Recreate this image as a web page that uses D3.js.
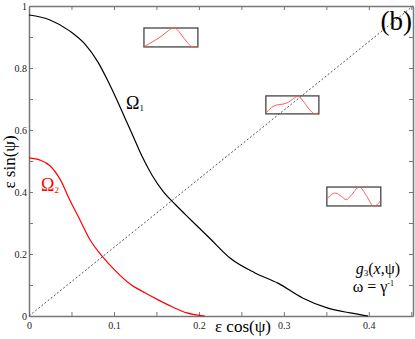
<!DOCTYPE html>
<html>
<head>
<meta charset="utf-8">
<script src="https://cdn.jsdelivr.net/npm/d3@7"></script>
<style>
body { margin: 0; background: #fff; }
svg { display: block; }
text { font-family: "Liberation Serif", "DejaVu Serif", serif; }
.axis path, .axis line { stroke: #777; }
.axis path { stroke-width: 1.5; }
</style>
</head>
<body>
<script>
// кривая Omega_1 (чёрная)
var omega1X = [0, 0.0247, 0.0482, 0.0659, 0.0812, 0.0929, 0.1035, 0.1129, 0.1224, 0.1329, 0.1447, 0.1576, 0.1729, 0.1894, 0.213, 0.237, 0.266, 0.293, 0.322, 0.351, 0.378, 0.399];
var omega1Y = [0.971, 0.955, 0.919, 0.877, 0.819, 0.758, 0.697, 0.639, 0.581, 0.516, 0.455, 0.403, 0.358, 0.313, 0.25, 0.186, 0.139, 0.106, 0.058, 0.026, 0.01, 0];
// кривая Omega_2 (красная)
var omega2X = [0, 0.013, 0.025, 0.037, 0.048, 0.06, 0.072, 0.087, 0.101, 0.119, 0.137, 0.152, 0.169, 0.186, 0.207];
var omega2Y = [0.51, 0.503, 0.484, 0.439, 0.374, 0.31, 0.245, 0.19, 0.148, 0.103, 0.074, 0.052, 0.029, 0.01, 0];
// диагональ
var diagX = [0, 0.452];
var diagY = [0, 1];
// подписи осей
var xTicks = [0, 0.05, 0.1, 0.15, 0.2, 0.25, 0.3, 0.35, 0.4, 0.45];
var xTickLabels = ["0", "", "0.1", "", "0.2", "", "0.3", "", "0.4", ""];
var yTicks = [0, 0.1, 0.2, 0.3, 0.4, 0.5, 0.6, 0.7, 0.8, 0.9, 1];
var yTickLabels = ["0", "", "0.2", "", "0.4", "", "0.6", "", "0.8", "", "1"];
// волновые формы во вставках (u по ширине, v по высоте, 0..1)
var wave1U = [0, 0.15, 0.3, 0.45, 0.53, 0.6, 0.7, 0.8, 0.88, 0.92, 1];
var wave1V = [0.02, 0.25, 0.52, 0.85, 1, 0.95, 0.62, 0.25, 0.03, 0, 0];
var wave2U = [0, 0.11, 0.2, 0.33, 0.42, 0.52, 0.61, 0.7, 0.83, 0.92, 1];
var wave2V = [0.04, 0.36, 0.49, 0.55, 0.64, 0.85, 0.98, 0.73, 0.22, 0, 0.09];
var wave3U = [0, 0.08, 0.16, 0.27, 0.36, 0.45, 0.6, 0.73, 0.86, 0.94, 1];
var wave3V = [0.35, 0.6, 0.68, 0.51, 0.33, 0.56, 1, 0.56, 0, 0.09, 0.3];

var W = 415, H = 339;
var m = { left: 29, right: 2, top: 6, bottom: 23 };
var serif = "'Liberation Serif', 'DejaVu Serif', serif";

var svg = d3.select("body").append("svg").attr("width", W).attr("height", H)
	.attr("font-family", serif);
var x = d3.scaleLinear().domain([0, 0.452]).range([m.left, W - m.right]);
var y = d3.scaleLinear().domain([0, 1]).range([H - m.bottom, m.top]);

function zip(a, b) { return a.map(function(v, i) { return [v, b[i]]; }); }

// оси со всех четырёх сторон, засечки внутрь
var axes = [];
axes.push(svg.append("g").attr("class", "axis").attr("transform", "translate(0," + y(0) + ")")
	.call(d3.axisBottom(x).tickValues(xTicks).tickSizeInner(-4).tickSizeOuter(0).tickPadding(6)
		.tickFormat(function(d, i) { return xTickLabels[i]; })));
axes.push(svg.append("g").attr("class", "axis").attr("transform", "translate(0," + y(1) + ")")
	.call(d3.axisTop(x).tickValues(xTicks).tickSizeInner(-4).tickSizeOuter(0).tickFormat("")));
axes.push(svg.append("g").attr("class", "axis").attr("transform", "translate(" + x(0) + ",0)")
	.call(d3.axisLeft(y).tickValues(yTicks).tickSizeInner(-4).tickSizeOuter(0).tickPadding(2)
		.tickFormat(function(d, i) { return yTickLabels[i]; })));
axes.push(svg.append("g").attr("class", "axis").attr("transform", "translate(" + x.range()[1] + ",0)")
	.call(d3.axisRight(y).tickValues(yTicks).tickSizeInner(-4).tickSizeOuter(0).tickFormat("")));
axes.forEach(function(a) {
	a.attr("font-family", serif).attr("font-size", 10);
	a.selectAll("text").attr("fill", "#222");
});

// диагональ пунктиром
var line = d3.line().x(function(d) { return x(d[0]); }).y(function(d) { return y(d[1]); });
svg.append("path").datum(zip(diagX, diagY)).attr("d", line)
	.attr("fill", "none").attr("stroke", "#555").attr("stroke-width", 1).attr("stroke-dasharray", "2,2");

var smooth = d3.line().curve(d3.curveMonotoneX).x(function(d) { return x(d[0]); }).y(function(d) { return y(d[1]); });
svg.append("path").datum(zip(omega1X, omega1Y)).attr("d", smooth)
	.attr("fill", "none").attr("stroke", "#000").attr("stroke-width", 1.2);
svg.append("path").datum(zip(omega2X, omega2Y)).attr("d", smooth)
	.attr("fill", "none").attr("stroke", "#f00").attr("stroke-width", 1.2);

// вставки: рамка в координатах графика
var insets = [
	{ x0: 0.1353, x1: 0.1988, y0: 0.868, y1: 0.929, u: wave1U, v: wave1V },
	{ x0: 0.2788, x1: 0.3412, y0: 0.652, y1: 0.710, u: wave2U, v: wave2V },
	{ x0: 0.3506, x1: 0.4141, y0: 0.355, y1: 0.416, u: wave3U, v: wave3V }
];
insets.forEach(function(b) {
	var ix = d3.scaleLinear().domain([0, 1]).range([x(b.x0), x(b.x1)]);
	var iy = d3.scaleLinear().domain([0, 1]).range([y(b.y0), y(b.y1)]);
	svg.append("rect").attr("x", x(b.x0)).attr("y", y(b.y1))
		.attr("width", x(b.x1) - x(b.x0)).attr("height", y(b.y0) - y(b.y1))
		.attr("fill", "none").attr("stroke", "#444").attr("stroke-width", 1.3);
	svg.append("path").datum(zip(b.u, b.v))
		.attr("d", d3.line().curve(d3.curveCatmullRom).x(function(d) { return ix(d[0]); }).y(function(d) { return iy(d[1]); }))
		.attr("fill", "none").attr("stroke", "#ff5a5a").attr("stroke-width", 1);
});

// подписи
svg.append("text").attr("x", 243).attr("y", 332).attr("text-anchor", "middle")
	.attr("font-size", 17).text("ε cos(ψ)");
svg.append("text").attr("transform", "translate(15,162) rotate(-90)").attr("text-anchor", "middle")
	.attr("font-size", 17).text("ε sin(ψ)");

var t1 = svg.append("text").attr("x", 126).attr("y", 109).attr("font-size", 18).attr("fill", "#000");
t1.append("tspan").text("Ω");
t1.append("tspan").attr("font-size", 9).attr("dy", 2).text("1");
var t2 = svg.append("text").attr("x", 41).attr("y", 191).attr("font-size", 18).attr("fill", "#f00");
t2.append("tspan").text("Ω");
t2.append("tspan").attr("font-size", 9).attr("dy", 2).text("2");

svg.append("text").attr("x", 412).attr("y", 30).attr("text-anchor", "end")
	.attr("font-size", 27).text("(b)");

var g3 = svg.append("text").attr("x", 400).attr("y", 274).attr("text-anchor", "end").attr("font-size", 16);
g3.append("tspan").attr("font-style", "italic").text("g");
g3.append("tspan").attr("font-size", 9).attr("dy", 2).text("3");
g3.append("tspan").attr("dy", -2).text("(");
g3.append("tspan").attr("font-style", "italic").text("x");
g3.append("tspan").text(",ψ)");
var om = svg.append("text").attr("x", 394).attr("y", 292).attr("text-anchor", "end").attr("font-size", 16);
om.append("tspan").text("ω = γ");
om.append("tspan").attr("font-size", 8).attr("dy", -6).text("-1");
</script>
</body>
</html>
